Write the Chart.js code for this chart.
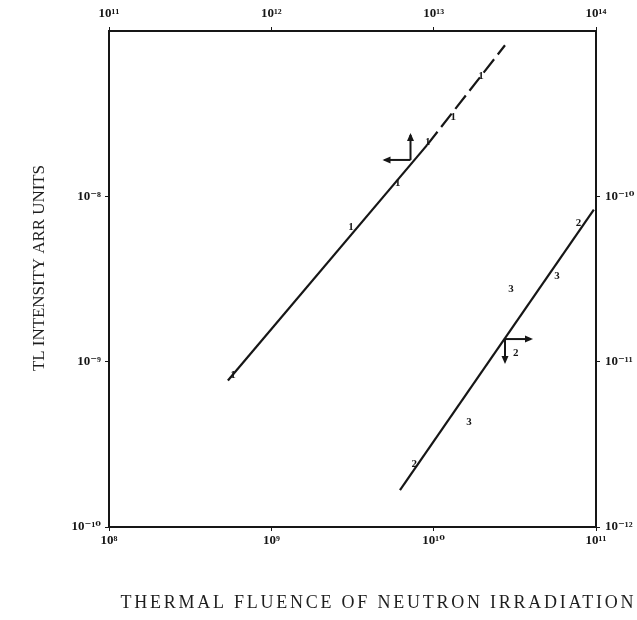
<!DOCTYPE html>
<html>
<head>
<meta charset="utf-8">
<script src="https://cdn.jsdelivr.net/npm/chart.js@4"></script>
<style>
  html, body { margin: 0; padding: 0; background: #fff; }
  #wrap { width: 637px; height: 620px; }
</style>
</head>
<body>
<div id="wrap"><canvas id="tlChart" width="637" height="620"></canvas></div>
<script>
// curve 1: top fluence axis / left intensity axis
const line1X = [5.4e11, 9.1e12, 2.75e13];
const line1Y = [7.7e-10, 2.04e-8, 8.2e-8];
// curve 2: bottom fluence axis / right intensity axis
const line2X = [6.2e9, 9.7e10];
const line2Y = [1.67e-12, 8.3e-11];

// sample markers written along the curves
const marks1X = [5.8e11, 3.1e12, 6.0e12, 9.2e12, 1.32e13, 1.96e13];
const marks1Y = [8.3e-10, 6.5e-9, 1.2e-8, 2.13e-8, 3.0e-8, 5.3e-8];
const marks1Text = ["1", "1", "1", "1", "1", "1"];
const marks2X = [7.6e9, 1.65e10, 3.0e10, 3.2e10, 5.75e10, 7.8e10];
const marks2Y = [2.4e-12, 4.3e-12, 2.75e-11, 1.13e-11, 3.3e-11, 6.9e-11];
const marks2Text = ["2", "3", "3", "2", "3", "2"];

// arrows telling which axes each curve belongs to
const arrow1 = [7.2e12, 1.66e-8];
const arrow2 = [2.75e10, 1.37e-11];

const bottomTicks = [1e8, 1e9, 1e10, 1e11];
const bottomLabels = ["10⁸", "10⁹", "10¹⁰", "10¹¹"];
const topTicks = [1e11, 1e12, 1e13, 1e14];
const topLabels = ["10¹¹", "10¹²", "10¹³", "10¹⁴"];
const leftTicks = [1e-10, 1e-9, 1e-8];
const leftLabels = ["10⁻¹⁰", "10⁻⁹", "10⁻⁸"];
const rightTicks = [1e-12, 1e-11, 1e-10];
const rightLabels = ["10⁻¹²", "10⁻¹¹", "10⁻¹⁰"];

const xTitle = "THERMAL FLUENCE OF NEUTRON IRRADIATION";
const yTitle = "TL INTENSITY ARR UNITS";

const ink = "#161616";
const tickFont = { family: "'Liberation Serif', 'DejaVu Serif', serif", size: 13, weight: "bold" };

function axis(position, min, max, ticks, labels, size, pad) {
  return {
    type: "logarithmic",
    position: position,
    min: min,
    max: max,
    afterBuildTicks: (s) => { s.ticks = ticks.map((v) => ({ value: v })); },
    afterFit: (s) => {
      if (position === "top" || position === "bottom") s.height = size;
      else s.width = size;
    },
    ticks: {
      color: ink,
      font: tickFont,
      padding: pad,
      autoSkip: false,
      maxRotation: 0,
      callback: (v) => {
        const i = ticks.findIndex((t) => Math.abs(Math.log10(t) - Math.log10(v)) < 1e-6);
        return i < 0 ? null : labels[i];
      },
    },
    grid: { drawOnChartArea: false, tickLength: 4, color: ink },
    border: { color: ink, width: 2 },
  };
}

// writes a title so it fills a given width, like the typewritten original
function spacedText(c, text, cx, cy, width) {
  c.letterSpacing = "0px";
  const w = c.measureText(text).width;
  const sp = (width - w) / text.length;
  c.letterSpacing = sp.toFixed(2) + "px";
  c.fillText(text, cx + sp / 2, cy);
}

const markerPlugin = {
  id: "markers",
  afterDatasetsDraw(chart) {
    const c = chart.ctx;
    const s = chart.scales;
    c.save();
    c.fillStyle = ink;
    c.strokeStyle = ink;
    c.font = "bold 11px 'Liberation Serif', serif";
    c.textAlign = "center";
    c.textBaseline = "middle";
    marks1X.forEach((x, i) => {
      c.fillText(marks1Text[i], s.xTop.getPixelForValue(x), s.yLeft.getPixelForValue(marks1Y[i]));
    });
    marks2X.forEach((x, i) => {
      c.fillText(marks2Text[i], s.xBottom.getPixelForValue(x), s.yRight.getPixelForValue(marks2Y[i]));
    });

    function arrow(x0, y0, dx, dy) {
      const x1 = x0 + dx, y1 = y0 + dy;
      c.lineWidth = 2;
      c.beginPath();
      c.moveTo(x0, y0);
      c.lineTo(x1, y1);
      c.stroke();
      const a = Math.atan2(dy, dx);
      c.beginPath();
      c.moveTo(x1 + 2 * Math.cos(a), y1 + 2 * Math.sin(a));
      c.lineTo(x1 - 6 * Math.cos(a) + 3.5 * Math.sin(a), y1 - 6 * Math.sin(a) - 3.5 * Math.cos(a));
      c.lineTo(x1 - 6 * Math.cos(a) - 3.5 * Math.sin(a), y1 - 6 * Math.sin(a) + 3.5 * Math.cos(a));
      c.closePath();
      c.fill();
    }
    const a1x = s.xTop.getPixelForValue(arrow1[0]);
    const a1y = s.yLeft.getPixelForValue(arrow1[1]);
    arrow(a1x, a1y, 0, -25);
    arrow(a1x, a1y, -26, 0);
    const a2x = s.xBottom.getPixelForValue(arrow2[0]);
    const a2y = s.yRight.getPixelForValue(arrow2[1]);
    arrow(a2x, a2y, 26, 0);
    arrow(a2x, a2y, 0, 23);

    // axis titles
    c.fillStyle = "#1e1e1e";
    c.font = "18px 'Liberation Serif', serif";
    spacedText(c, xTitle, 377, 603, 516);
    c.font = "17px 'Liberation Serif', serif";
    c.translate(40, 268);
    c.rotate(-Math.PI / 2);
    spacedText(c, yTitle, 0, 0, 206);
    c.restore();
  },
};

new Chart(document.getElementById("tlChart"), {
  type: "line",
  data: {
    datasets: [
      {
        label: "1",
        data: line1X.map((x, i) => ({ x: x, y: line1Y[i] })),
        xAxisID: "xTop",
        yAxisID: "yLeft",
        borderColor: ink,
        borderWidth: 2.2,
        pointRadius: 0,
        segment: { borderDash: (ctx) => (ctx.p0DataIndex >= 1 ? [17, 6] : undefined) },
      },
      {
        label: "2",
        data: line2X.map((x, i) => ({ x: x, y: line2Y[i] })),
        xAxisID: "xBottom",
        yAxisID: "yRight",
        borderColor: ink,
        borderWidth: 2.2,
        pointRadius: 0,
      },
    ],
  },
  options: {
    responsive: false,
    animation: false,
    layout: { padding: 0 },
    plugins: { legend: { display: false }, tooltip: { enabled: false } },
    scales: {
      xBottom: axis("bottom", 1e8, 1e11, bottomTicks, bottomLabels, 93, 2),
      xTop: axis("top", 1e11, 1e14, topTicks, topLabels, 31, 6),
      yLeft: axis("left", 1e-10, 1e-7, leftTicks, leftLabels, 109, 4),
      yRight: axis("right", 1e-12, 1e-9, rightTicks, rightLabels, 41, 5),
    },
  },
  plugins: [markerPlugin],
});
</script>
</body>
</html>
